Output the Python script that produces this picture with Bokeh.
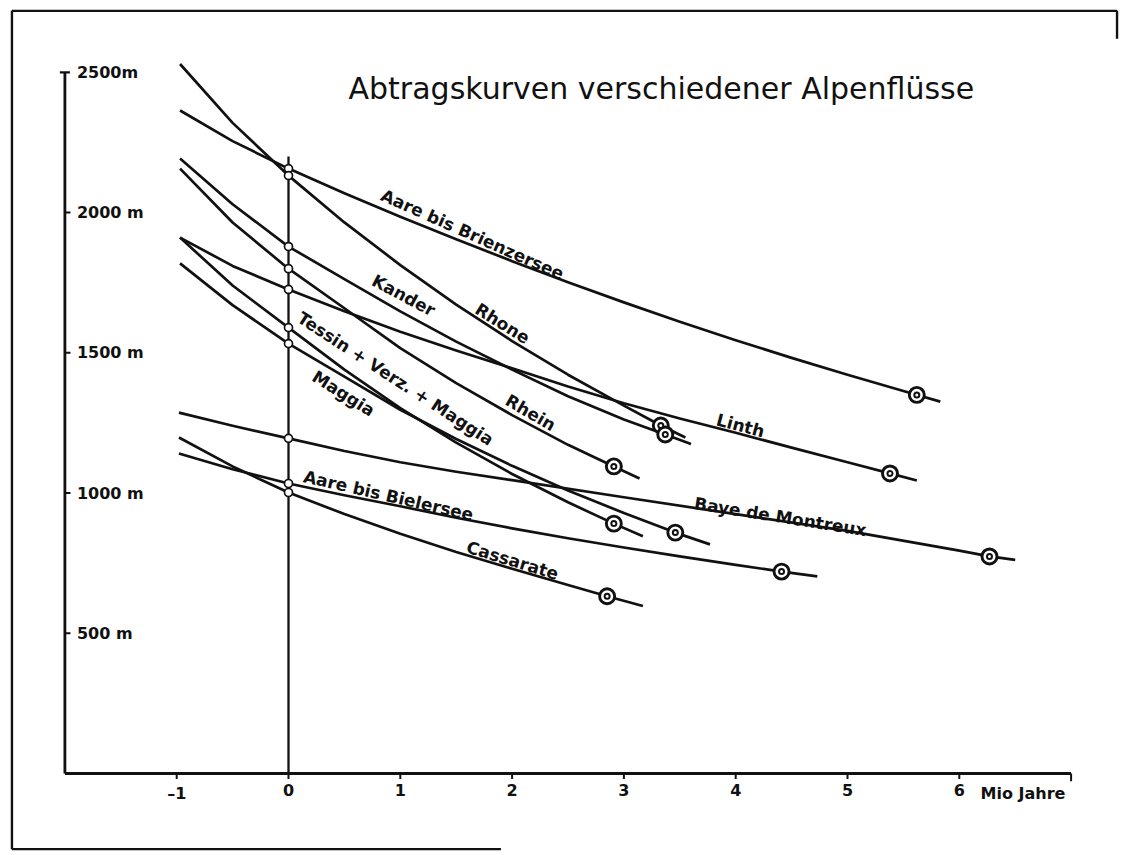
from bokeh.plotting import figure
from bokeh.models import Range1d, ColumnDataSource
from bokeh.core.properties import value
from bokeh.embed import file_html
from bokeh.resources import INLINE
import math

# ---------------- data ----------------
rivers = ["Aare bis Brienzersee", "Rhone", "Kander", "Rhein", "Linth",
          "Tessin + Verz. + Maggia", "Maggia", "Baye de Montreux",
          "Aare bis Bielersee", "Cassarate"]

aare_brienz_x = [-0.97, -0.5, 0, 0.5, 1, 1.5, 2, 2.5, 3, 3.5, 4, 4.5, 5, 5.5, 5.83]
aare_brienz_h = [2364, 2255, 2157, 2069, 1985, 1905, 1827, 1752, 1680, 1611, 1545, 1482, 1422, 1364, 1326]

rhone_x = [-0.97, -0.5, 0, 0.5, 1, 1.5, 2, 2.5, 3, 3.33, 3.55]
rhone_h = [2530, 2320, 2132, 1965, 1813, 1672, 1542, 1422, 1312, 1241, 1198]

kander_x = [-0.97, -0.5, 0, 0.5, 1, 1.5, 2, 2.5, 3, 3.37, 3.6]
kander_h = [2193, 2030, 1879, 1763, 1648, 1540, 1440, 1345, 1262, 1209, 1175]

rhein_x = [-0.97, -0.5, 0, 0.5, 1, 1.5, 2, 2.5, 2.91, 3.14]
rhein_h = [2157, 1965, 1800, 1659, 1517, 1392, 1278, 1172, 1095, 1052]

linth_x = [-0.97, -0.5, 0, 0.5, 1, 1.5, 2, 2.5, 3, 3.5, 4, 4.5, 5, 5.38, 5.62]
linth_h = [1911, 1810, 1726, 1648, 1575, 1508, 1445, 1380, 1320, 1266, 1215, 1162, 1110, 1070, 1045]

tessin_x = [-0.97, -0.5, 0, 0.5, 1, 1.5, 2, 2.5, 2.91, 3.17]
tessin_h = [1911, 1740, 1590, 1440, 1303, 1180, 1068, 967, 891, 846]

maggia_x = [-0.97, -0.5, 0, 0.5, 1, 1.5, 2, 2.5, 3, 3.46, 3.77]
maggia_h = [1819, 1670, 1533, 1415, 1297, 1193, 1097, 1009, 929, 859, 817]

baye_x = [-0.98, -0.5, 0, 0.5, 1, 1.5, 2, 3, 4, 5, 6, 6.27, 6.5]
baye_h = [1287, 1240, 1195, 1150, 1110, 1076, 1046, 985, 925, 865, 795, 774, 762]

aare_biel_x = [-0.98, -0.5, 0, 0.5, 1, 1.5, 2, 2.5, 3, 3.5, 4, 4.41, 4.73]
aare_biel_h = [1141, 1085, 1034, 992, 953, 912, 874, 839, 806, 774, 744, 720, 703]

cassarate_x = [-0.98, -0.5, 0, 0.5, 1, 1.5, 2, 2.5, 2.85, 3.17]
cassarate_h = [1198, 1095, 1002, 925, 855, 790, 730, 672, 632, 597]

# end points (double circles)
end_x = [5.62, 3.33, 3.37, 2.91, 5.38, 2.91, 3.46, 6.27, 4.41, 2.85]
end_h = [1350, 1241, 1209, 1095, 1070, 891, 859, 774, 720, 632]

# axis ticks
x_ticks = [-1, 0, 1, 2, 3, 4, 5, 6]
x_tick_labels = ["\u20131", "0", "1", "2", "3", "4", "5", "6"]
y_ticks = [500, 1000, 1500, 2000, 2500]
y_tick_labels = ["500 m", "1000 m", "1500 m", "2000 m", "2500m"]
x_unit = "Mio Jahre"
title = "Abtragskurven  verschiedener Alpenfl\u00fcsse"

curves_x = [aare_brienz_x, rhone_x, kander_x, rhein_x, linth_x, tessin_x,
            maggia_x, baye_x, aare_biel_x, cassarate_x]
curves_h = [aare_brienz_h, rhone_h, kander_h, rhein_h, linth_h, tessin_h,
            maggia_h, baye_h, aare_biel_h, cassarate_h]

# ---------------- layout ----------------
X0, X1 = -2.4866, 7.424     # frame edges in data units (= sheet border)
Y0, Y1 = -274.6, 2724.3
BX0, BX1 = X0 + 0.012, X1 - 0.012   # border drawn just inside the frame
BY0, BY1 = Y0 + 4.6, Y1 - 4.6
AX_X0, AX_X1 = -2.0, 7.0     # extent of the drawn x axis
AX_Y1 = 2500                 # top of drawn y axis
ZERO_TOP = 2200              # top of the vertical line at t = 0
FONT = value("DejaVu Sans")

p = figure(width=1120, height=853, x_range=Range1d(X0, X1), y_range=Range1d(Y0, Y1),
           output_backend="svg", toolbar_location=None,
           x_axis_location=None, y_axis_location=None,
           min_border_left=10, min_border_right=2, min_border_top=9, min_border_bottom=3)
p.grid.visible = False
p.outline_line_color = None
p.background_fill_color = "white"
p.border_fill_color = "white"

BLACK = "#111111"

# sheet border as seen on the scan: top and left complete, right and bottom partial
p.segment(x0=[BX0, BX0, BX1, BX0], y0=[BY1, BY1, BY1, BY0], x1=[BX1, BX0, BX1, 1.9],
          y1=[BY1, BY0, 2620, BY0], line_color=BLACK, line_width=2.6)

# axes
p.segment(x0=[AX_X0, AX_X0], y0=[0, 0], x1=[AX_X0, AX_X1], y1=[AX_Y1, 0],
          line_color=BLACK, line_width=2.8)
# y ticks (pointing right), T at the top
p.segment(x0=[AX_X0] * 4, y0=y_ticks[:4], x1=[AX_X0 + 0.05] * 4, y1=y_ticks[:4],
          line_color=BLACK, line_width=2)
p.segment(x0=[AX_X0 - 0.045], y0=[y_ticks[4]], x1=[AX_X0 + 0.045], y1=[y_ticks[4]],
          line_color=BLACK, line_width=2.4)
# x ticks (pointing down)
p.segment(x0=x_ticks + [AX_X1], y0=[0] * (len(x_ticks) + 1),
          x1=x_ticks + [AX_X1], y1=[-20] * len(x_ticks) + [-28],
          line_color=BLACK, line_width=2)

# vertical line at t = 0
p.segment(x0=[0], y0=[0], x1=[0], y1=[ZERO_TOP], line_color=BLACK, line_width=2.3)

# curves
for xs, hs in zip(curves_x, curves_h):
    p.line(xs, hs, line_color=BLACK, line_width=2.7, line_join="round")

# circles at t = 0
zero_h = [hs[xs.index(0)] for xs, hs in zip(curves_x, curves_h)]
p.scatter([0] * len(zero_h), zero_h, marker="circle", size=8,
          fill_color="white", line_color=BLACK, line_width=1.7)

# double circles at the end points
p.scatter(end_x, end_h, marker="circle", size=15, fill_color="white",
          line_color=BLACK, line_width=2.9)
p.scatter(end_x, end_h, marker="circle", size=5, fill_color="white",
          line_color=BLACK, line_width=2)

# axis labels
p.text(x=[AX_X0 + 0.108] * len(y_ticks), y=y_ticks, text=y_tick_labels,
       text_font=FONT, text_font_size="16px", text_font_style="bold",
       text_align="left", text_baseline="middle", text_color=BLACK)
p.text(x=x_ticks, y=[-36] * len(x_ticks), text=x_tick_labels,
       text_font=FONT, text_font_size="16px", text_font_style="bold",
       text_align="center", text_baseline="top", text_color=BLACK)
p.text(x=[6.19], y=[-36], text=[x_unit], text_font=FONT, text_font_size="16px",
       text_font_style="bold", text_align="left", text_baseline="top",
       text_color=BLACK)

# title
p.text(x=[0.537], y=[2443], text=[title], text_font=FONT, text_font_size="30px",
       text_align="left", text_baseline="alphabetic", text_color=BLACK)

# curve labels (position and rotation chosen to follow the curves)
lab_x = [1.646, 1.914, 1.03, 2.165, 4.043, 0.957, 0.492, 4.40, 0.894, 2.004]
lab_h = [1922, 1605, 1705, 1287, 1241, 1408, 1355, 916, 991, 760]
lab_deg = [-24, -32, -28, -30, -15, -33, -32, -9, -13, -17]
src = ColumnDataSource(dict(x=lab_x, y=lab_h, text=rivers,
                            angle=[math.radians(a) for a in lab_deg]))
p.text(x="x", y="y", text="text", angle="angle", source=src,
       text_font=FONT, text_font_size="17px", text_font_style="bold",
       text_align="center", text_baseline="middle", text_color=BLACK)

open("out.html", "w").write(file_html(p, INLINE))
